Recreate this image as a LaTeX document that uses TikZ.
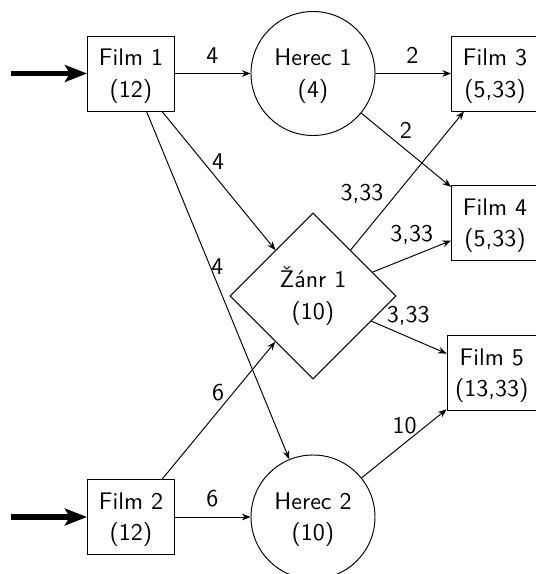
\documentclass[tikz,border=0pt]{standalone}
\usepackage{fontspec}
\usetikzlibrary{shapes.geometric,arrows.meta}
\begin{document}
\begin{tikzpicture}[x=0.41667pt,y=-0.41667pt,
  every node/.style={font=\sffamily\fontsize{10}{13}\selectfont},
  film/.style={draw,rectangle,align=center,minimum width=36.25pt,minimum height=30.4pt,inner sep=3.33pt},
  herec/.style={draw,circle,align=center,minimum size=51.67pt,inner sep=0pt},
  zanr/.style={draw,diamond,align=center,minimum width=69.2pt,minimum height=69.2pt,inner sep=0pt},
  arr/.style={-{Stealth[length=3.6pt,width=2.8pt]}},
  feed/.style={line width=2.4pt,-{Stealth[length=9.2pt,width=7pt,inset=2pt]}},
  lab/.style={inner sep=0pt,anchor=base}
]
\useasboundingbox (0,0) rectangle (536,574);

\node[film]  (f1) at (131,73.5)   {\strut Film 1\\(12)};
\node[herec] (h1) at (313,73.5)   {\strut Herec 1\\(4)};
\node[film]  (f3) at (495,73.5)   {\strut Film 3\\(5,33)};
\node[film]  (f4) at (495,223)    {\strut Film 4\\(5,33)};
\node[zanr]  (z1) at (313,296)    {Žánr 1\\(10)};
\node[film]  (f5) at (491.75,373) {\strut Film 5\\(13,33)};
\node[film]  (f2) at (131,517)    {\strut Film 2\\(12)};
\node[herec] (h2) at (313,517)    {\strut Herec 2\\(10)};

\coordinate (in1) at (11,73.5);
\coordinate (in2) at (11,517);

\draw[feed] (in1) -- (f1);
\draw[feed] (in2) -- (f2);

\draw[arr] (f1) -- (h1) node[lab] (l1) at (212.5,63) {4};
\draw[arr] (h1) -- (f3) node[lab] (l2) at (412.5,63.3) {2};
\draw[arr] (f1) -- (z1) node[lab] (l3) at (218,169.3) {4};
\draw[arr] (f1) -- (h2) node[lab] (l4) at (217.5,274) {4};
\draw[arr] (h1) -- (f4) node[lab] (l5) at (405.8,138.3) {2};
\draw[arr] (z1) -- (f3) node[lab] (l6) at (362,200.7) {3,33};
\draw[arr] (z1) -- (f4) node[lab] (l7) at (411.7,241.7) {3,33};
\draw[arr] (z1) -- (f5) node[lab] (l8) at (408.3,322.7) {3,33};
\draw[arr] (f2) -- (z1) node[lab] (l9) at (218,400.7) {6};
\draw[arr] (f2) -- (h2) node[lab] (l10) at (212.5,506) {6};
\draw[arr] (h2) -- (f5) node[lab] (l11) at (404.7,433.3) {10};
\end{tikzpicture}
\end{document}
